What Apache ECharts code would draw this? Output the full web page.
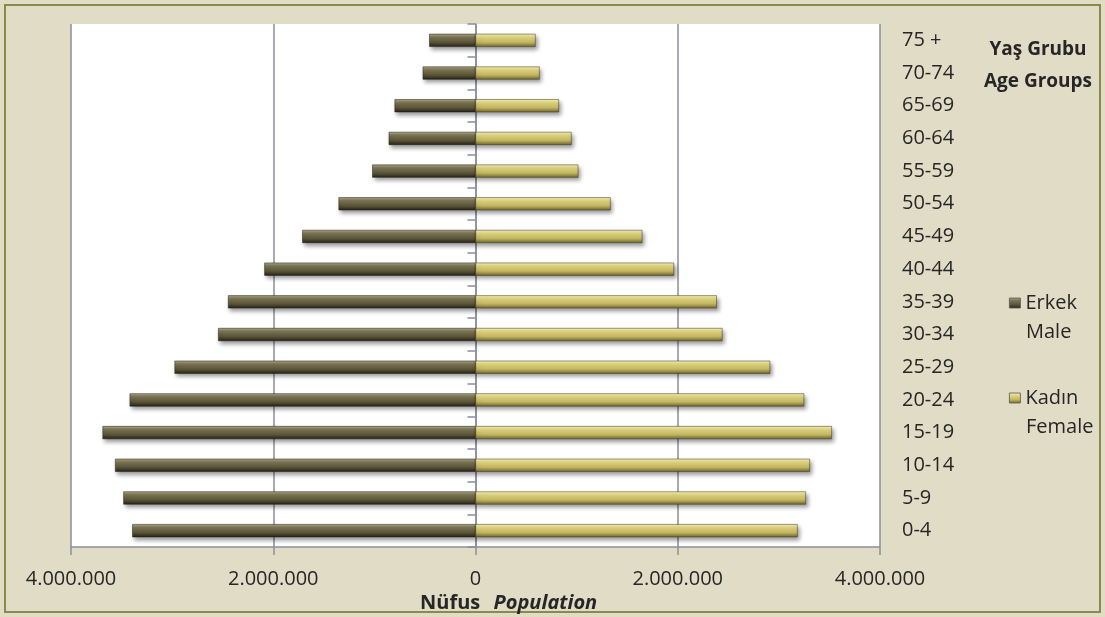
<!DOCTYPE html>
<html>
<head>
    <meta charset="utf-8">
    <title>Nüfus piramidi</title>
    <script src="https://cdn.jsdelivr.net/npm/echarts@6/dist/echarts.min.js"></script>
    <style>
        html, body { margin: 0; padding: 0; background: #e0dcc6; }
        #chart { width: 1105px; height: 617px; }
    </style>
</head>
<body>
<div id="chart"></div>
<script type="text/javascript">
    // age groups, bottom to top
    var ageGroups = ['0-4', '5-9', '10-14', '15-19', '20-24', '25-29', '30-34', '35-39',
        '40-44', '45-49', '50-54', '55-59', '60-64', '65-69', '70-74', '75 +'];
    // Erkek / Male
    var male = [3394000, 3482000, 3564000, 3688000, 3420000, 2976000, 2545000, 2447000,
        2088000, 1713000, 1354000, 1021000, 858000, 800000, 522000, 457000];
    // Kadın / Female
    var female = [3185000, 3267000, 3307000, 3524000, 3250000, 2914000, 2442000, 2386000,
        1963000, 1650000, 1336000, 1017000, 950000, 825000, 634000, 594000];
    var xTicks = [-4000000, 4000000, 2000000]; // min, max, interval

    var font = '"Open Sans", "Noto Sans", sans-serif';
    var gridColor = '#8a8e9c';
    var textColor = '#262626';

    function dots(v) {
        return Math.abs(v).toString().replace(/\B(?=(\d{3})+(?!\d))/g, '.');
    }

    var maleNeg = male.map(function (v) { return -v; });

    var chart = echarts.init(document.getElementById('chart'));
    chart.setOption({
        backgroundColor: '#e0dcc6',
        animation: false,
        textStyle: { fontFamily: font },
        grid: {
            left: 71, right: 225, top: 24, bottom: 70,
            show: true, backgroundColor: '#ffffff', borderWidth: 0
        },
        legend: {
            orient: 'vertical',
            left: 1004,
            top: 287,
            icon: 'rect',
            itemWidth: 11,
            itemHeight: 10,
            itemGap: 73,
            data: ['Erkek', 'Kadın'],
            itemStyle: { borderColor: '#555', borderWidth: 0.8 },
            textStyle: { fontFamily: font, fontSize: 20, color: textColor, lineHeight: 22 }
        },
        xAxis: {
            type: 'value',
            min: xTicks[0],
            max: xTicks[1],
            interval: xTicks[2],
            axisLine: { show: true, lineStyle: { color: gridColor, width: 1.5 } },
            axisTick: { show: true, length: 8, lineStyle: { color: gridColor, width: 1.5 } },
            splitLine: { show: true, lineStyle: { color: gridColor, width: 1.5 } },
            axisLabel: {
                margin: 22,
                fontFamily: font,
                fontSize: 20,
                color: textColor,
                formatter: dots
            }
        },
        yAxis: [{
            type: 'category',
            data: ageGroups,
            axisLine: { onZero: true, lineStyle: { color: gridColor, width: 1.5 } },
            axisTick: { show: true, length: 8, lineStyle: { color: gridColor, width: 1.5 } },
            axisLabel: { show: false }
        }, {
            type: 'category',
            position: 'right',
            data: ageGroups,
            axisLine: { show: false },
            axisTick: { show: false },
            axisLabel: {
                margin: 22,
                align: 'left',
                fontFamily: font,
                fontSize: 20,
                color: textColor
            }
        }],
        graphic: [
            {
                type: 'rect',
                shape: { x: 5, y: 5, width: 1095, height: 607 },
                style: { fill: 'none', stroke: '#8b8a4a', lineWidth: 2 },
                silent: true
            },
            {
                type: 'text', x: 1038, y: 50,
                style: { text: 'Yaş Grubu', font: 'bold 19px ' + font, fill: textColor, align: 'center', verticalAlign: 'middle' }
            },
            {
                type: 'text', x: 1038, y: 82,
                style: { text: 'Age Groups', font: 'bold 19px ' + font, fill: textColor, align: 'center', verticalAlign: 'middle' }
            },
            {
                type: 'text', x: 1026, y: 332,
                style: { text: 'Male', font: '20px ' + font, fill: textColor, verticalAlign: 'middle' }
            },
            {
                type: 'text', x: 1026, y: 427,
                style: { text: 'Female', font: '20px ' + font, fill: textColor, verticalAlign: 'middle' }
            },
            {
                type: 'text', x: 420, y: 603,
                style: {
                    text: '{a|Nüfus}    {b|Population}',
                    verticalAlign: 'middle',
                    rich: {
                        a: { fontFamily: font, fontSize: 20, fontWeight: 'bold', fill: textColor },
                        b: { fontFamily: font, fontSize: 20, fontWeight: 'bold', fontStyle: 'italic', fill: textColor }
                    }
                }
            }
        ],
        series: [{
            name: 'Erkek',
            type: 'bar',
            barWidth: 13,
            barGap: '-100%',
            data: maleNeg,
            itemStyle: {
                color: new echarts.graphic.LinearGradient(0, 0, 0, 1, [
                    { offset: 0, color: '#b0aa86' },
                    { offset: 0.25, color: '#7d7656' },
                    { offset: 0.65, color: '#5c5638' },
                    { offset: 1, color: '#24221a' }
                ]),
                borderColor: '#1e1c14',
                borderWidth: 0.5,
                shadowColor: 'rgba(0,0,0,0.4)',
                shadowBlur: 4,
                shadowOffsetX: 2,
                shadowOffsetY: 3
            }
        }, {
            name: 'Kadın',
            type: 'bar',
            barWidth: 13,
            data: female,
            itemStyle: {
                color: new echarts.graphic.LinearGradient(0, 0, 0, 1, [
                    { offset: 0, color: '#f6f0b4' },
                    { offset: 0.25, color: '#e3d883' },
                    { offset: 0.65, color: '#c3b660' },
                    { offset: 1, color: '#6e6530' }
                ]),
                borderColor: '#3a3620',
                borderWidth: 0.5,
                shadowColor: 'rgba(0,0,0,0.4)',
                shadowBlur: 4,
                shadowOffsetX: 2,
                shadowOffsetY: 3
            }
        }]
    });
</script>
</body>
</html>
